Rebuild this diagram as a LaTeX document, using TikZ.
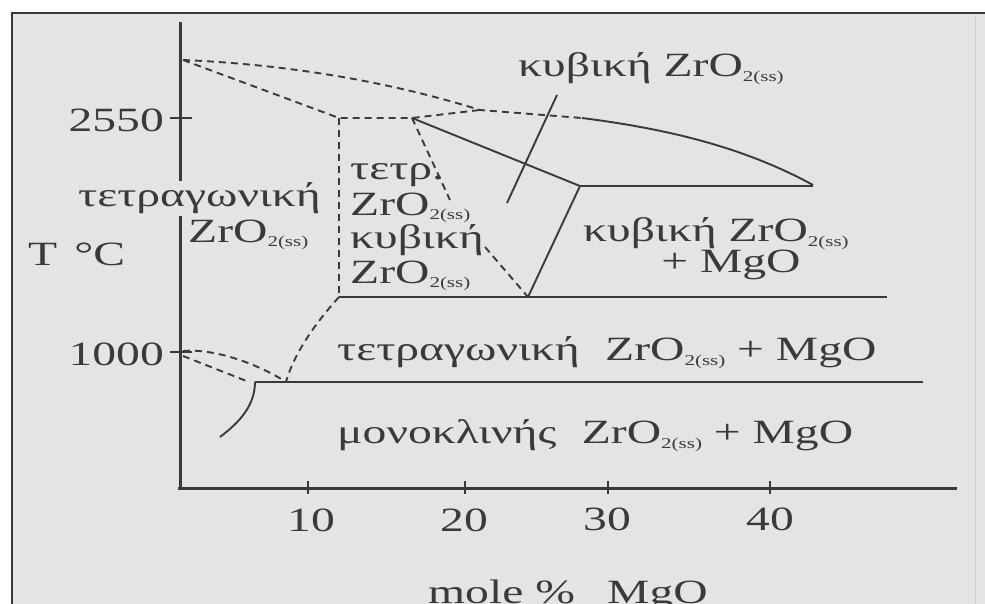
\documentclass[tikz,border=0pt]{standalone}
\usepackage{fontspec}
\setmainfont{Liberation Serif}[FakeStretch=1.4]
\definecolor{bg}{HTML}{E4E4E4}
\definecolor{ink}{HTML}{3A3A3A}
\newcommand\zrss{ZrO\raisebox{-5pt}{\fontsize{15}{15}\selectfont 2(ss)}}
\begin{document}
\begin{tikzpicture}[x=1pt,y=-1pt,
  txt/.style={inner sep=0pt, text=ink, font=\fontsize{34}{38}\selectfont},
  axisline/.style={line width=3pt, draw=ink},
  solidln/.style={line width=1.9pt, draw=ink},
  dashln/.style={line width=1.9pt, draw=ink, dash pattern=on 7pt off 5pt}]
\useasboundingbox (0,0) rectangle (985,604);
\fill[white] (0,0) rectangle (985,604);
\fill[bg] (12,13) rectangle (985,604);
\draw[line width=2.5pt, draw=ink] (12,604) -- (12,13) -- (985,13);
\draw[line width=0.8pt, draw=ink!25] (975,16) -- (975,604);

% key points
\coordinate (A) at (183,60);
\coordinate (B) at (339,118);
\coordinate (C) at (412,118);
\coordinate (F) at (480,110);
\coordinate (G) at (582,118);
\coordinate (H) at (813,185);
\coordinate (D) at (580,186);
\coordinate (Dr) at (813,186);
\coordinate (E) at (528,297);
\coordinate (Bb) at (339,297);
\coordinate (Er) at (887,297);
\coordinate (K) at (286,382);
\coordinate (M) at (255,382);
\coordinate (Mr) at (923,382);
\coordinate (T1) at (183,351);
\coordinate (T2) at (183,356);
\coordinate (L) at (249,382);
\coordinate (Mb) at (220,437);
\coordinate (P1) at (450,200);
\coordinate (P2) at (485,247);
\coordinate (Q1) at (557,95);
\coordinate (Q2) at (507,203);

% axes
\draw[axisline] (180,22) -- (180,490);
\draw[axisline] (178,488) -- (957,488);
\draw[solidln] (170,118) -- (192,118);
\draw[solidln] (170,352) -- (192,352);
\foreach \x in {308,465,608,770} \draw[solidln] (\x,481) -- (\x,494);

% phase boundaries
\draw[dashln] (A) .. controls (300,65) and (400,85) .. (F) -- (G);
\draw[solidln] (G) .. controls (660,128) and (740,145) .. (H);
\draw[dashln] (A) -- (B) -- (C) -- (F);
\draw[dashln] (B) -- (Bb);
\draw[solidln] (C) -- (D) -- (Dr);
\draw[solidln] (D) -- (E);
\draw[dashln] (C) -- (P1);
\draw[dashln] (P2) -- (E);
\draw[solidln] (Bb) -- (Er);
\draw[dashln] (Bb) .. controls (320,318) and (295,350) .. (K);
\draw[solidln] (M) -- (Mr);
\draw[dashln] (T1) .. controls (215,348) and (260,365) .. (K);
\draw[dashln] (T2) -- (L);
\draw[solidln] (M) .. controls (255,405) and (240,422) .. (Mb);
\draw[solidln] (Q1) -- (Q2);

% labels
\node[txt, anchor=base west] (cubtop) at (518,77) {κυβική \zrss};
\node[txt, anchor=base east] (t2550) at (164,132) {2550};
\node[txt, anchor=base east] (t1000) at (164,365) {1000};
\node[txt, anchor=base west, fill=bg, inner ysep=2pt] (tetl) at (78,207) {τετραγωνική};
\node[txt, anchor=base west] (zrl) at (188,242) {\zrss};
\node[txt, anchor=base west] (tc) at (28,265) {T\hspace{0.5em}°C};
\node[txt, anchor=base west] (m1) at (350,180) {τετρ.};
\node[txt, anchor=base west] (m2) at (350,215) {\zrss};
\node[txt, anchor=base west] (m3) at (350,248) {κυβική};
\node[txt, anchor=base west] (m4) at (350,283) {\zrss};
\node[txt, anchor=base west] (cubr) at (583,241) {κυβική \zrss};
\node[txt, anchor=base] (mgo1) at (731,272) {+ MgO};
\node[txt, anchor=base west] (tetr) at (337,360) {τετραγωνική\hspace{0.4em} \zrss{} + MgO};
\node[txt, anchor=base west] (mono) at (337,443) {μονοκλινής\hspace{0.4em} \zrss{} + MgO};
\node[txt, anchor=base] (x10) at (311,531) {10};
\node[txt, anchor=base] (x20) at (464,531) {20};
\node[txt, anchor=base] (x30) at (607,530) {30};
\node[txt, anchor=base] (x40) at (770,530) {40};
\node[txt, anchor=base west] (xl) at (428,603) {mole \%\hspace{0.6em} MgO};
\end{tikzpicture}
\end{document}
